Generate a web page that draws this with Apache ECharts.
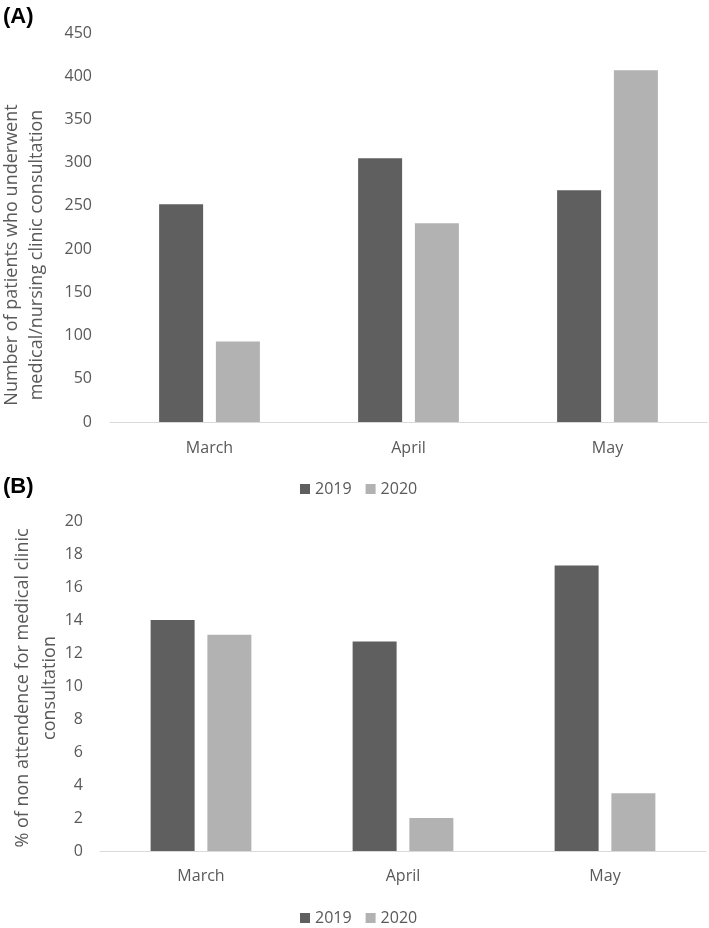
<!DOCTYPE html>
<html>
<head>
<meta charset="utf-8">
<script src="https://cdn.jsdelivr.net/npm/echarts@6/dist/echarts.min.js"></script>
<style>
  html, body { margin: 0; padding: 0; background: #ffffff; }
  #chart { width: 709px; height: 928px; }
</style>
</head>
<body>
<div id="chart"></div>
<script>
const months = ['March', 'April', 'May'];
const seriesNames = ['2019', '2020'];
const consult2019 = [252, 305, 268];
const consult2020 = [93, 230, 407];
const nonAttend2019 = [14.0, 12.7, 17.3];
const nonAttend2020 = [13.1, 2.0, 3.5];
const titleA = 'Number of patients who underwent\nmedical/nursing clinic consultation';
const titleB = '% of non attendence for medical clinic\nconsultation';

const FONT = '"Open Sans", sans-serif';
const TXT = '#595959';
const C19 = '#5f5f5f';
const C20 = '#b2b2b2';

const chart = echarts.init(document.getElementById('chart'), null, { renderer: 'canvas' });

function yAx(gi, max, interval, margin) {
  return {
    type: 'value', gridIndex: gi, min: 0, max: max, interval: interval,
    axisLine: { show: false }, axisTick: { show: false },
    splitLine: { show: false },
    axisLabel: { color: TXT, fontFamily: FONT, fontSize: 16, margin: margin }
  };
}
function xAx(gi, margin) {
  return {
    type: 'category', gridIndex: gi, data: months,
    axisLine: { show: true, lineStyle: { color: '#d9d9d9', width: 1 } },
    axisTick: { show: false },
    axisLabel: { color: TXT, fontFamily: FONT, fontSize: 16, margin: margin }
  };
}
function bar(name, data, gi, color) {
  return {
    name: name, type: 'bar', xAxisIndex: gi, yAxisIndex: gi, data: data,
    barWidth: 44, barGap: '29%',
    itemStyle: { color: color }
  };
}
function legend(top) {
  return {
    top: top, left: 295, data: seriesNames, icon: 'rect',
    itemWidth: 10, itemHeight: 10, itemGap: 14,
    textStyle: { color: TXT, fontFamily: FONT, fontSize: 16 }
  };
}

chart.setOption({
  animation: false,
  backgroundColor: '#ffffff',
  grid: [
    { left: 110, right: 2, top: 33, bottom: 506 },
    { left: 100, right: 3, top: 521, bottom: 77 }
  ],
  xAxis: [xAx(0, 18), xAx(1, 17)],
  yAxis: [yAx(0, 450, 50, 18), yAx(1, 20, 2, 17)],
  legend: [legend(476), legend(905)],
  series: [
    bar(seriesNames[0], consult2019, 0, C19),
    bar(seriesNames[1], consult2020, 0, C20),
    bar(seriesNames[0], nonAttend2019, 1, C19),
    bar(seriesNames[1], nonAttend2020, 1, C20)
  ],
  graphic: [
    { type: 'text', left: 3, top: 6, style: { text: '(A)', font: 'bold 22px "Liberation Sans", Arial, sans-serif', fill: '#000' } },
    { type: 'text', left: 3, top: 476, style: { text: '(B)', font: 'bold 22px "Liberation Sans", Arial, sans-serif', fill: '#000' } },
    { type: 'text', x: 24, y: 255, rotation: Math.PI / 2,
      style: { text: titleA, fill: TXT, fontFamily: FONT, fontSize: 18, lineHeight: 25, align: 'center', verticalAlign: 'middle' } },
    { type: 'text', x: 36, y: 688, rotation: Math.PI / 2,
      style: { text: titleB, fill: TXT, fontFamily: FONT, fontSize: 18, lineHeight: 27, align: 'center', verticalAlign: 'middle' } }
  ]
});
</script>
</body>
</html>
